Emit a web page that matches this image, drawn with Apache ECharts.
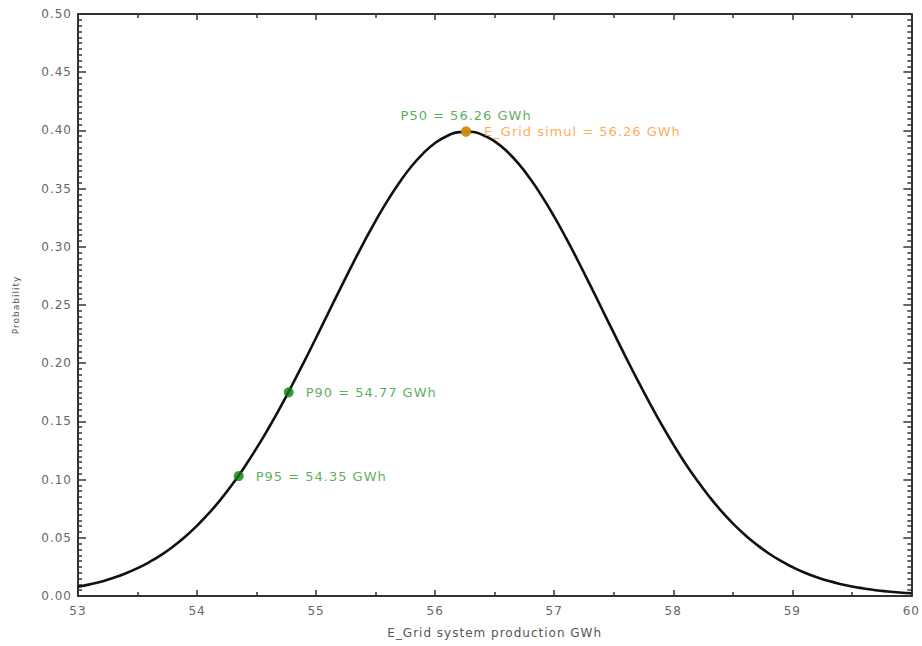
<!DOCTYPE html>
<html>
<head>
<meta charset="utf-8">
<script src="https://cdn.jsdelivr.net/npm/echarts@6/dist/echarts.min.js"></script>
<style>html,body{margin:0;padding:0;background:#fff}#c{width:922px;height:646px}#c svg text{letter-spacing:1px}</style>
</head>
<body>
<div id="c"></div>
<script>
const curveX = [53.0,53.1,53.2,53.3,53.4,53.5,53.6,53.7,53.8,53.9,
  54.0,54.1,54.2,54.3,54.4,54.5,54.6,54.7,54.8,54.9,
  55.0,55.1,55.2,55.3,55.4,55.5,55.6,55.7,55.8,55.9,
  56.0,56.1,56.2,56.3,56.4,56.5,56.6,56.7,56.8,56.9,
  57.0,57.1,57.2,57.3,57.4,57.5,57.6,57.7,57.8,57.9,
  58.0,58.1,58.2,58.3,58.4,58.5,58.6,58.7,58.8,58.9,
  59.0,59.1,59.2,59.3,59.4,59.5,59.6,59.7,59.8,59.9,60.0];
const curveY = [0.0079,0.0100,0.0125,0.0156,0.0194,0.0239,0.0292,0.0354,0.0426,0.0509,
  0.0604,0.0711,0.0831,0.0964,0.1111,0.1270,0.1441,0.1623,0.1815,0.2014,
  0.2219,0.2427,0.2634,0.2838,0.3036,0.3223,0.3397,0.3553,0.3690,0.3803,
  0.3892,0.3952,0.3985,0.3988,0.3961,0.3906,0.3823,0.3714,0.3582,0.3429,
  0.3259,0.3074,0.2878,0.2675,0.2468,0.2260,0.2055,0.1854,0.1661,0.1476,
  0.1303,0.1141,0.0993,0.0857,0.0734,0.0624,0.0527,0.0442,0.0367,0.0303,
  0.0249,0.0202,0.0163,0.0131,0.0104,0.0082,0.0065,0.0050,0.0039,0.0030,0.0023];
// Probability markers
const pNames = ['P50 = 56.26 GWh','P90 = 54.77 GWh','P95 = 54.35 GWh'];
const pX = [56.26, 54.77, 54.35];
const pY = [0.399, 0.175, 0.103];
const simName = 'E_Grid simul = 56.26 GWh';
const simX = [56.26];
const simY = [0.399];
const xTitle = 'E_Grid system production GWh';
const yTitle = 'Probability';

const curve = curveX.map((x,i)=>[x,curveY[i]]);
const pts = pX.map((x,i)=>({value:[x,pY[i]], name:pNames[i],
  label:{position: i===0 ? 'top' : 'right', distance: i===0 ? 5 : 12}}));
const sim = simX.map((x,i)=>({value:[x,simY[i]], name:simName}));

const font = 'DejaVu Sans, sans-serif';
const axisCol = '#333';
const tickStyle = {color:axisCol, width:1.5};
const common = {
  axisLine:{show:true, onZero:false, lineStyle:{color:axisCol, width:2}},
  splitLine:{show:false},
};
const chart = echarts.init(document.getElementById('c'), null, {renderer:'svg'});
chart.setOption({
  animation:false,
  backgroundColor:'#fff',
  grid:{left:78, right:9, top:14, bottom:50},
  xAxis:[
    Object.assign({}, common, {type:'value', min:53, max:60, interval:1, position:'bottom',
      axisTick:{inside:true, length:6, lineStyle:tickStyle},
      minorTick:{show:true, splitNumber:2, length:4, lineStyle:tickStyle},
      axisLabel:{color:'#666', fontSize:12, fontFamily:font, margin:9},
      name:xTitle, nameLocation:'middle', nameGap:31,
      nameTextStyle:{color:'#555', fontSize:12, fontFamily:font}}),
    Object.assign({}, common, {type:'value', min:53, max:60, interval:1, position:'top',
      axisTick:{inside:true, length:6, lineStyle:tickStyle},
      minorTick:{show:true, splitNumber:2, length:4, lineStyle:tickStyle},
      axisLabel:{show:false}})
  ],
  yAxis:[
    Object.assign({}, common, {type:'value', min:0, max:0.5, interval:0.05, position:'left',
      axisTick:{inside:true, length:8, lineStyle:tickStyle},
      minorTick:{show:true, splitNumber:10, length:4, lineStyle:tickStyle},
      axisLabel:{color:'#666', fontSize:12, fontFamily:font, margin:6,
        formatter:v=>v.toFixed(2)},
      name:yTitle, nameLocation:'middle', nameGap:58,
      nameTextStyle:{color:'#555', fontSize:9, fontFamily:font}}),
    Object.assign({}, common, {type:'value', min:0, max:0.5, interval:0.05, position:'right',
      axisTick:{inside:true, length:8, lineStyle:tickStyle},
      minorTick:{show:true, splitNumber:10, length:4, lineStyle:tickStyle},
      axisLabel:{show:false}})
  ],
  series:[
    {type:'line', data:curve, smooth:true, showSymbol:false, xAxisIndex:0, yAxisIndex:0,
      lineStyle:{color:'#111', width:2.6}, z:2},
    {type:'scatter', data:pts, symbolSize:10, xAxisIndex:0, yAxisIndex:0,
      itemStyle:{color:'#0b7f0b'}, z:3,
      label:{show:true, formatter:p=>p.name, color:'#2f9a2f', fontSize:13, fontFamily:font}},
    {type:'scatter', data:sim, symbolSize:10, xAxisIndex:0, yAxisIndex:0,
      itemStyle:{color:'#ff8a10'}, z:4,
      label:{show:true, position:'right', distance:13, formatter:p=>p.name,
        color:'#ff9526', fontSize:13, fontFamily:font}}
  ]
});
</script>
</body>
</html>
